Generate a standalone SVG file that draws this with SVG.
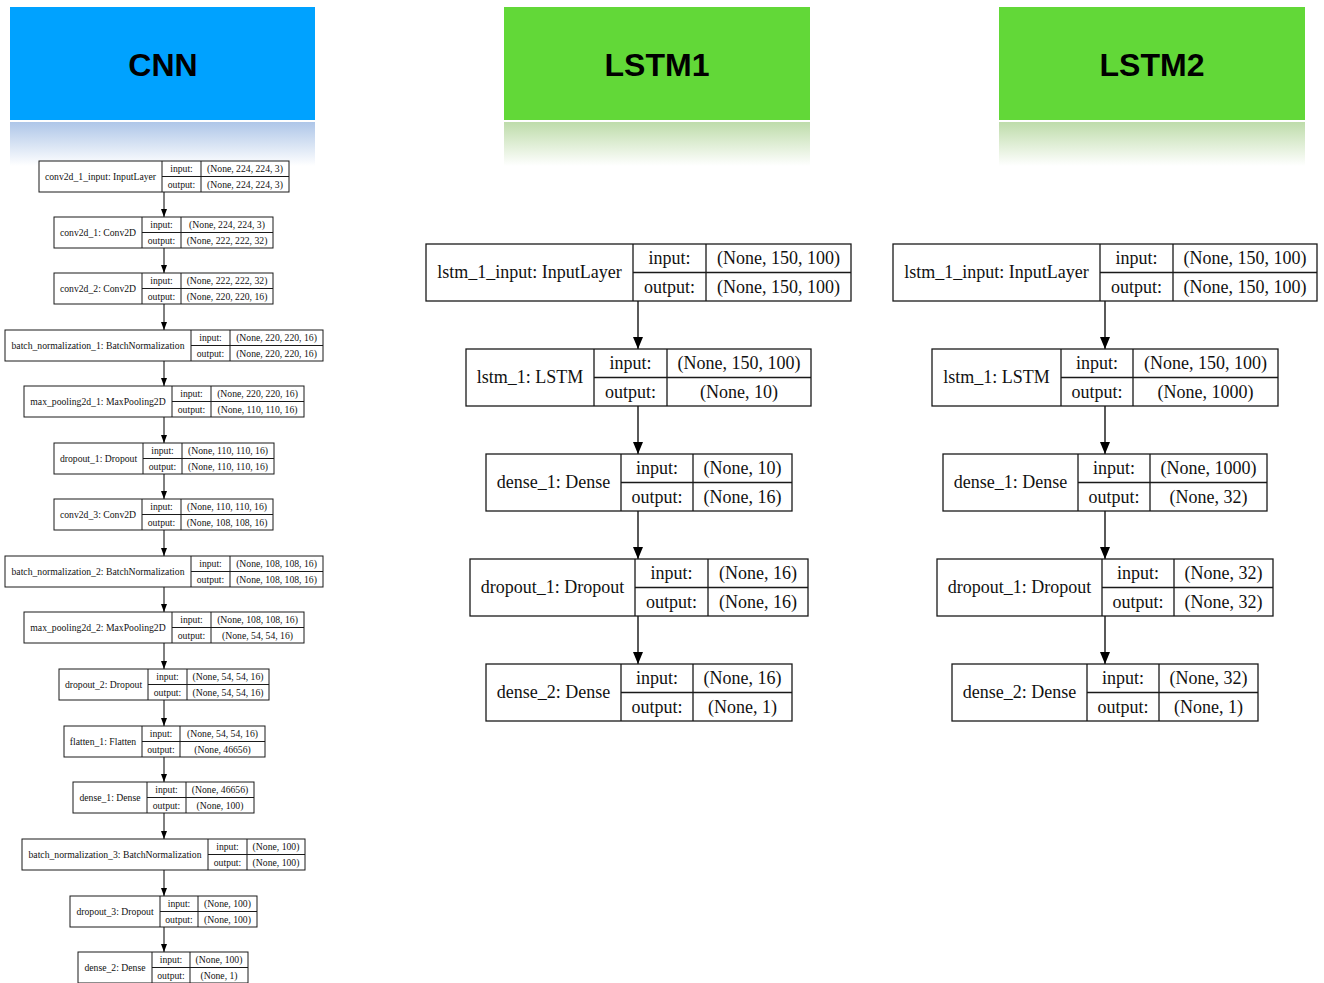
<svg xmlns="http://www.w3.org/2000/svg" width="1324" height="983" viewBox="0 0 1324 983">
<style>
.bx{fill:#fff;stroke:#1a1a1a;stroke-width:1.3}
.dv{fill:none;stroke:#1a1a1a;stroke-width:1.3}
.bs{fill:#fff;stroke:#1a1a1a;stroke-width:1}
.ds{fill:none;stroke:#1a1a1a;stroke-width:1}
.t{font-family:"Liberation Serif","Times New Roman",serif;font-size:18px;fill:#111;text-anchor:middle}
.s{font-family:"Liberation Serif","Times New Roman",serif;font-size:9.7px;fill:#111;text-anchor:middle}
.h{font-family:"Liberation Sans",Arial,sans-serif;font-weight:bold;font-size:32px;fill:#000;text-anchor:middle}
.cl{stroke:#000;stroke-width:1.3;fill:none}
.cs{stroke:#000;stroke-width:1;fill:none}
</style>
<defs>
<linearGradient id="gb" x1="0" y1="0" x2="0" y2="1"><stop offset="0" stop-color="#aec6e8"/><stop offset="1" stop-color="#ffffff"/></linearGradient>
<linearGradient id="gg" x1="0" y1="0" x2="0" y2="1"><stop offset="0" stop-color="#bedcaa"/><stop offset="1" stop-color="#ffffff"/></linearGradient>
<marker id="aL" markerUnits="userSpaceOnUse" markerWidth="12" markerHeight="10" refX="12" refY="5" orient="auto"><path d="M0,0 L12,5 L0,10 z" fill="#000"/></marker>
<marker id="aS" markerUnits="userSpaceOnUse" markerWidth="8" markerHeight="6" refX="8" refY="3" orient="auto"><path d="M0,0 L8,3 L0,6 z" fill="#000"/></marker>
</defs>
<rect width="1324" height="983" fill="#fff"/>

<g id="hdr-cnn">
<rect x="10" y="7" width="305" height="113" fill="#00a2ff"/>
<rect x="10" y="122" width="305" height="44" fill="url(#gb)"/>
<text class="h" x="163" y="76">CNN</text>
</g>
<g id="hdr-lstm1">
<rect x="504" y="7" width="306" height="113" fill="#62d838"/>
<rect x="504" y="122" width="306" height="44" fill="url(#gg)"/>
<text class="h" x="657" y="76">LSTM1</text>
</g>
<g id="hdr-lstm2">
<rect x="999" y="7" width="306" height="113" fill="#62d838"/>
<rect x="999" y="122" width="306" height="44" fill="url(#gg)"/>
<text class="h" x="1152" y="76">LSTM2</text>
</g>

<g id="connectors">
<line class="cl" x1="638" y1="301" x2="638" y2="349" marker-end="url(#aL)"/>
<line class="cl" x1="638" y1="406" x2="638" y2="454" marker-end="url(#aL)"/>
<line class="cl" x1="638" y1="511" x2="638" y2="559" marker-end="url(#aL)"/>
<line class="cl" x1="638" y1="616" x2="638" y2="664" marker-end="url(#aL)"/>
<line class="cl" x1="1105" y1="301" x2="1105" y2="349" marker-end="url(#aL)"/>
<line class="cl" x1="1105" y1="406" x2="1105" y2="454" marker-end="url(#aL)"/>
<line class="cl" x1="1105" y1="511" x2="1105" y2="559" marker-end="url(#aL)"/>
<line class="cl" x1="1105" y1="616" x2="1105" y2="664" marker-end="url(#aL)"/>
<line class="cs" x1="164" y1="192" x2="164" y2="217" marker-end="url(#aS)"/>
<line class="cs" x1="164" y1="248" x2="164" y2="273" marker-end="url(#aS)"/>
<line class="cs" x1="164" y1="304" x2="164" y2="330" marker-end="url(#aS)"/>
<line class="cs" x1="164" y1="361" x2="164" y2="386" marker-end="url(#aS)"/>
<line class="cs" x1="164" y1="417" x2="164" y2="443" marker-end="url(#aS)"/>
<line class="cs" x1="164" y1="474" x2="164" y2="499" marker-end="url(#aS)"/>
<line class="cs" x1="164" y1="530" x2="164" y2="556" marker-end="url(#aS)"/>
<line class="cs" x1="164" y1="587" x2="164" y2="612" marker-end="url(#aS)"/>
<line class="cs" x1="164" y1="643" x2="164" y2="669" marker-end="url(#aS)"/>
<line class="cs" x1="164" y1="700" x2="164" y2="726" marker-end="url(#aS)"/>
<line class="cs" x1="164" y1="757" x2="164" y2="782" marker-end="url(#aS)"/>
<line class="cs" x1="164" y1="813" x2="164" y2="839" marker-end="url(#aS)"/>
<line class="cs" x1="164" y1="870" x2="164" y2="896" marker-end="url(#aS)"/>
<line class="cs" x1="164" y1="927" x2="164" y2="952" marker-end="url(#aS)"/>
</g>

<!-- LSTM1 -->
<g id="l1-input">
<rect class="bx" x="426" y="244" width="425" height="57"/>
<path class="dv" d="M633,244V301M706,244V301M633,272.5H851"/>
<text class="t" x="529.5" y="278">lstm_1_input: InputLayer</text>
<text class="t" x="669.5" y="264">input:</text>
<text class="t" x="669.5" y="292.5">output:</text>
<text class="t" x="778.5" y="264">(None, 150, 100)</text>
<text class="t" x="778.5" y="292.5">(None, 150, 100)</text>
</g>
<g id="l1-lstm">
<rect class="bx" x="466" y="349" width="345" height="57"/>
<path class="dv" d="M594,349V406M667,349V406M594,377.5H811"/>
<text class="t" x="530" y="383">lstm_1: LSTM</text>
<text class="t" x="630.5" y="369">input:</text>
<text class="t" x="630.5" y="397.5">output:</text>
<text class="t" x="739" y="369">(None, 150, 100)</text>
<text class="t" x="739" y="397.5">(None, 10)</text>
</g>
<g id="l1-dense1">
<rect class="bx" x="486" y="454" width="306" height="57"/>
<path class="dv" d="M621,454V511M693,454V511M621,482.5H792"/>
<text class="t" x="553.5" y="488">dense_1: Dense</text>
<text class="t" x="657" y="474">input:</text>
<text class="t" x="657" y="502.5">output:</text>
<text class="t" x="742.5" y="474">(None, 10)</text>
<text class="t" x="742.5" y="502.5">(None, 16)</text>
</g>
<g id="l1-dropout1">
<rect class="bx" x="470" y="559" width="338" height="57"/>
<path class="dv" d="M635,559V616M708,559V616M635,587.5H808"/>
<text class="t" x="552.5" y="593">dropout_1: Dropout</text>
<text class="t" x="671.5" y="579">input:</text>
<text class="t" x="671.5" y="607.5">output:</text>
<text class="t" x="758" y="579">(None, 16)</text>
<text class="t" x="758" y="607.5">(None, 16)</text>
</g>
<g id="l1-dense2">
<rect class="bx" x="486" y="664" width="306" height="57"/>
<path class="dv" d="M621,664V721M693,664V721M621,692.5H792"/>
<text class="t" x="553.5" y="698">dense_2: Dense</text>
<text class="t" x="657" y="684">input:</text>
<text class="t" x="657" y="712.5">output:</text>
<text class="t" x="742.5" y="684">(None, 16)</text>
<text class="t" x="742.5" y="712.5">(None, 1)</text>
</g>

<!-- LSTM2 -->
<g id="l2-input">
<rect class="bx" x="893" y="244" width="424" height="57"/>
<path class="dv" d="M1100,244V301M1173,244V301M1100,272.5H1317"/>
<text class="t" x="996.5" y="278">lstm_1_input: InputLayer</text>
<text class="t" x="1136.5" y="264">input:</text>
<text class="t" x="1136.5" y="292.5">output:</text>
<text class="t" x="1245" y="264">(None, 150, 100)</text>
<text class="t" x="1245" y="292.5">(None, 150, 100)</text>
</g>
<g id="l2-lstm">
<rect class="bx" x="932" y="349" width="346" height="57"/>
<path class="dv" d="M1061,349V406M1133,349V406M1061,377.5H1278"/>
<text class="t" x="996.5" y="383">lstm_1: LSTM</text>
<text class="t" x="1097" y="369">input:</text>
<text class="t" x="1097" y="397.5">output:</text>
<text class="t" x="1205.5" y="369">(None, 150, 100)</text>
<text class="t" x="1205.5" y="397.5">(None, 1000)</text>
</g>
<g id="l2-dense1">
<rect class="bx" x="943" y="454" width="324" height="57"/>
<path class="dv" d="M1078,454V511M1150,454V511M1078,482.5H1267"/>
<text class="t" x="1010.5" y="488">dense_1: Dense</text>
<text class="t" x="1114" y="474">input:</text>
<text class="t" x="1114" y="502.5">output:</text>
<text class="t" x="1208.5" y="474">(None, 1000)</text>
<text class="t" x="1208.5" y="502.5">(None, 32)</text>
</g>
<g id="l2-dropout1">
<rect class="bx" x="937" y="559" width="336" height="57"/>
<path class="dv" d="M1102,559V616M1174,559V616M1102,587.5H1273"/>
<text class="t" x="1019.5" y="593">dropout_1: Dropout</text>
<text class="t" x="1138" y="579">input:</text>
<text class="t" x="1138" y="607.5">output:</text>
<text class="t" x="1223.5" y="579">(None, 32)</text>
<text class="t" x="1223.5" y="607.5">(None, 32)</text>
</g>
<g id="l2-dense2">
<rect class="bx" x="952" y="664" width="306" height="57"/>
<path class="dv" d="M1087,664V721M1159,664V721M1087,692.5H1258"/>
<text class="t" x="1019.5" y="698">dense_2: Dense</text>
<text class="t" x="1123" y="684">input:</text>
<text class="t" x="1123" y="712.5">output:</text>
<text class="t" x="1208.5" y="684">(None, 32)</text>
<text class="t" x="1208.5" y="712.5">(None, 1)</text>
</g>

<!-- CNN -->
<g id="c-input">
<rect class="bs" x="39" y="161" width="250" height="31"/>
<path class="ds" d="M162,161V192M201,161V192M162,176.5H289"/>
<text class="s" x="100.5" y="179.7">conv2d_1_input: InputLayer</text>
<text class="s" x="181.5" y="172">input:</text>
<text class="s" x="181.5" y="187.5">output:</text>
<text class="s" x="245" y="172">(None, 224, 224, 3)</text>
<text class="s" x="245" y="187.5">(None, 224, 224, 3)</text>
</g>
<g id="c-conv1">
<rect class="bs" x="54" y="217" width="219" height="31"/>
<path class="ds" d="M142,217V248M181,217V248M142,232.5H273"/>
<text class="s" x="98" y="235.7">conv2d_1: Conv2D</text>
<text class="s" x="161.5" y="228">input:</text>
<text class="s" x="161.5" y="243.5">output:</text>
<text class="s" x="227" y="228">(None, 224, 224, 3)</text>
<text class="s" x="227" y="243.5">(None, 222, 222, 32)</text>
</g>
<g id="c-conv2">
<rect class="bs" x="54" y="273" width="219" height="31"/>
<path class="ds" d="M142,273V304M181,273V304M142,288.5H273"/>
<text class="s" x="98" y="291.7">conv2d_2: Conv2D</text>
<text class="s" x="161.5" y="284">input:</text>
<text class="s" x="161.5" y="299.5">output:</text>
<text class="s" x="227" y="284">(None, 222, 222, 32)</text>
<text class="s" x="227" y="299.5">(None, 220, 220, 16)</text>
</g>
<g id="c-bn1">
<rect class="bs" x="5" y="330" width="318" height="31"/>
<path class="ds" d="M191,330V361M230,330V361M191,345.5H323"/>
<text class="s" x="98" y="348.7">batch_normalization_1: BatchNormalization</text>
<text class="s" x="210.5" y="341">input:</text>
<text class="s" x="210.5" y="356.5">output:</text>
<text class="s" x="276.5" y="341">(None, 220, 220, 16)</text>
<text class="s" x="276.5" y="356.5">(None, 220, 220, 16)</text>
</g>
<g id="c-pool1">
<rect class="bs" x="24" y="386" width="280" height="31"/>
<path class="ds" d="M172,386V417M211,386V417M172,401.5H304"/>
<text class="s" x="98" y="404.7">max_pooling2d_1: MaxPooling2D</text>
<text class="s" x="191.5" y="397">input:</text>
<text class="s" x="191.5" y="412.5">output:</text>
<text class="s" x="257.5" y="397">(None, 220, 220, 16)</text>
<text class="s" x="257.5" y="412.5">(None, 110, 110, 16)</text>
</g>
<g id="c-drop1">
<rect class="bs" x="54" y="443" width="220" height="31"/>
<path class="ds" d="M143,443V474M182,443V474M143,458.5H274"/>
<text class="s" x="98.5" y="461.7">dropout_1: Dropout</text>
<text class="s" x="162.5" y="454">input:</text>
<text class="s" x="162.5" y="469.5">output:</text>
<text class="s" x="228" y="454">(None, 110, 110, 16)</text>
<text class="s" x="228" y="469.5">(None, 110, 110, 16)</text>
</g>
<g id="c-conv3">
<rect class="bs" x="54" y="499" width="219" height="31"/>
<path class="ds" d="M142,499V530M181,499V530M142,514.5H273"/>
<text class="s" x="98" y="517.7">conv2d_3: Conv2D</text>
<text class="s" x="161.5" y="510">input:</text>
<text class="s" x="161.5" y="525.5">output:</text>
<text class="s" x="227" y="510">(None, 110, 110, 16)</text>
<text class="s" x="227" y="525.5">(None, 108, 108, 16)</text>
</g>
<g id="c-bn2">
<rect class="bs" x="5" y="556" width="318" height="31"/>
<path class="ds" d="M191,556V587M230,556V587M191,571.5H323"/>
<text class="s" x="98" y="574.7">batch_normalization_2: BatchNormalization</text>
<text class="s" x="210.5" y="567">input:</text>
<text class="s" x="210.5" y="582.5">output:</text>
<text class="s" x="276.5" y="567">(None, 108, 108, 16)</text>
<text class="s" x="276.5" y="582.5">(None, 108, 108, 16)</text>
</g>
<g id="c-pool2">
<rect class="bs" x="24" y="612" width="280" height="31"/>
<path class="ds" d="M172,612V643M211,612V643M172,627.5H304"/>
<text class="s" x="98" y="630.7">max_pooling2d_2: MaxPooling2D</text>
<text class="s" x="191.5" y="623">input:</text>
<text class="s" x="191.5" y="638.5">output:</text>
<text class="s" x="257.5" y="623">(None, 108, 108, 16)</text>
<text class="s" x="257.5" y="638.5">(None, 54, 54, 16)</text>
</g>
<g id="c-drop2">
<rect class="bs" x="59" y="669" width="210" height="31"/>
<path class="ds" d="M148,669V700M187,669V700M148,684.5H269"/>
<text class="s" x="103.5" y="687.7">dropout_2: Dropout</text>
<text class="s" x="167.5" y="680">input:</text>
<text class="s" x="167.5" y="695.5">output:</text>
<text class="s" x="228" y="680">(None, 54, 54, 16)</text>
<text class="s" x="228" y="695.5">(None, 54, 54, 16)</text>
</g>
<g id="c-flat">
<rect class="bs" x="64" y="726" width="201" height="31"/>
<path class="ds" d="M142,726V757M180,726V757M142,741.5H265"/>
<text class="s" x="103" y="744.7">flatten_1: Flatten</text>
<text class="s" x="161" y="737">input:</text>
<text class="s" x="161" y="752.5">output:</text>
<text class="s" x="222.5" y="737">(None, 54, 54, 16)</text>
<text class="s" x="222.5" y="752.5">(None, 46656)</text>
</g>
<g id="c-dense1">
<rect class="bs" x="73" y="782" width="181" height="31"/>
<path class="ds" d="M147,782V813M186,782V813M147,797.5H254"/>
<text class="s" x="110" y="800.7">dense_1: Dense</text>
<text class="s" x="166.5" y="793">input:</text>
<text class="s" x="166.5" y="808.5">output:</text>
<text class="s" x="220" y="793">(None, 46656)</text>
<text class="s" x="220" y="808.5">(None, 100)</text>
</g>
<g id="c-bn3">
<rect class="bs" x="22" y="839" width="283" height="31"/>
<path class="ds" d="M208,839V870M247,839V870M208,854.5H305"/>
<text class="s" x="115" y="857.7">batch_normalization_3: BatchNormalization</text>
<text class="s" x="227.5" y="850">input:</text>
<text class="s" x="227.5" y="865.5">output:</text>
<text class="s" x="276" y="850">(None, 100)</text>
<text class="s" x="276" y="865.5">(None, 100)</text>
</g>
<g id="c-drop3">
<rect class="bs" x="70" y="896" width="187" height="31"/>
<path class="ds" d="M160,896V927M198,896V927M160,911.5H257"/>
<text class="s" x="115" y="914.7">dropout_3: Dropout</text>
<text class="s" x="179" y="907">input:</text>
<text class="s" x="179" y="922.5">output:</text>
<text class="s" x="227.5" y="907">(None, 100)</text>
<text class="s" x="227.5" y="922.5">(None, 100)</text>
</g>
<g id="c-dense2">
<rect class="bs" x="78" y="952" width="170" height="31"/>
<path class="ds" d="M152,952V983M190,952V983M152,967.5H248"/>
<text class="s" x="115" y="970.7">dense_2: Dense</text>
<text class="s" x="171" y="963">input:</text>
<text class="s" x="171" y="978.5">output:</text>
<text class="s" x="219" y="963">(None, 100)</text>
<text class="s" x="219" y="978.5">(None, 1)</text>
</g>
</svg>
